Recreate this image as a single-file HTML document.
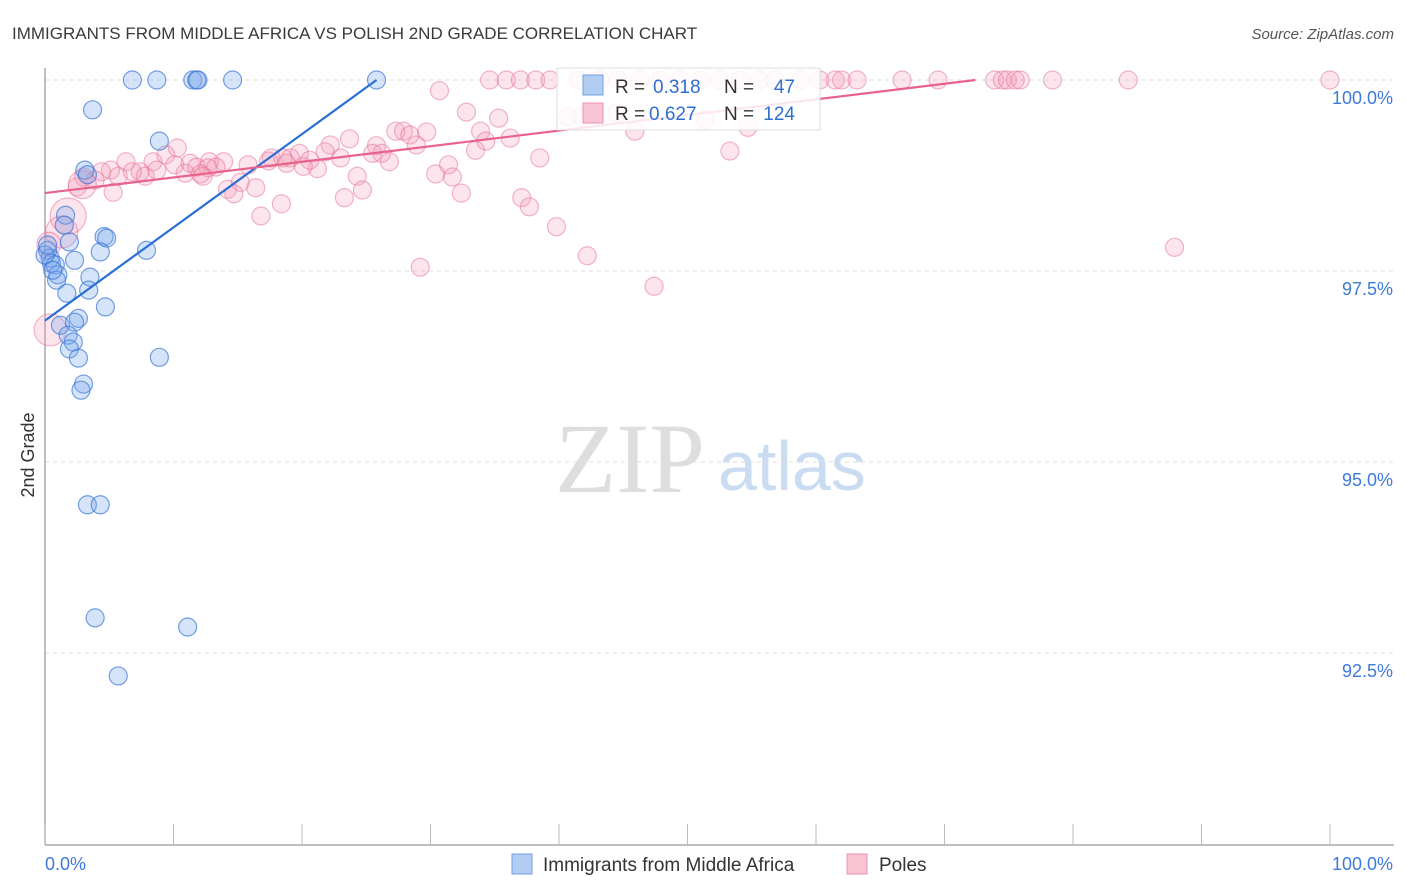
<!DOCTYPE html>
<html><head><meta charset="utf-8"><style>
body{margin:0;background:#fff;font-family:"Liberation Sans",sans-serif;}
#wrap{position:relative;width:1406px;height:892px;overflow:hidden;}
</style></head><body>
<div id="wrap">
<svg id="svg" width="1406" height="892">
<text x="12" y="39" font-size="17" fill="#3a3a3a">IMMIGRANTS FROM MIDDLE AFRICA VS POLISH 2ND GRADE CORRELATION CHART</text>
<text x="1394" y="39" font-size="15" fill="#555" font-style="italic" text-anchor="end">Source: ZipAtlas.com</text>
<text x="34" y="455" font-size="18" fill="#333" text-anchor="middle" transform="rotate(-90 34 455)">2nd Grade</text>
<text x="555" y="492" font-size="100" fill="#dedede" font-family="Liberation Serif,serif">ZIP</text>
<text x="718" y="490" font-size="70" fill="#cadcf2">atlas</text>
<g id="grid"></g><g id="axes"></g><g id="marks"></g><g id="lines"></g>
<g>
<rect x="557" y="68" width="263" height="62" fill="#fff" fill-opacity="0.85" stroke="#ddd"/>
<rect x="583" y="75" width="20" height="20" fill="#b3cdf2" stroke="#6f9fe0"/>
<rect x="583" y="103" width="20" height="20" fill="#f9c5d5" stroke="#ea94b0"/>
<text x="615" y="93" font-size="19" fill="#333">R = </text><text x="653" y="93" font-size="19" fill="#2e6fd0">0.318</text>
<text x="724" y="93" font-size="19" fill="#333">N = </text><text x="795" y="93" font-size="19" fill="#2e6fd0" text-anchor="end">47</text>
<text x="615" y="120" font-size="19" fill="#333">R = </text><text x="649" y="120" font-size="19" fill="#2e6fd0">0.627</text>
<text x="724" y="120" font-size="19" fill="#333">N = </text><text x="795" y="120" font-size="19" fill="#2e6fd0" text-anchor="end">124</text>
</g>
<g>
<rect x="512" y="854" width="20" height="20" fill="#b3cdf2" stroke="#6f9fe0"/>
<text x="543" y="871" font-size="19" fill="#333">Immigrants from Middle Africa</text>
<rect x="847" y="854" width="20" height="20" fill="#f9c5d5" stroke="#ea94b0"/>
<text x="879" y="871" font-size="19" fill="#333">Poles</text>
</g>
</svg>
</div>
<script>
const blueX=[6.8,8.7,11.5,11.8,11.9,14.6,25.8,3.7,8.9,3.1,3.3,1.6,1.5,1.9,4.6,4.8,7.9,4.3,2.3,0.2,0.4,0.5,0.8,1.0,0.9,3.5,3.4,1.7,4.7,2.6,1.2,2.3,1.8,2.2,1.9,2.6,8.9,3.0,2.8,3.3,4.3,3.9,11.1,5.7,0.0,0.2,0.6];
const blueY=[100,100,100,100,100,100,100,99.61,99.20,98.82,98.76,98.23,98.10,97.88,97.95,97.93,97.77,97.75,97.64,97.77,97.67,97.60,97.58,97.45,97.38,97.42,97.25,97.21,97.03,96.88,96.79,96.83,96.66,96.57,96.48,96.36,96.37,96.02,95.94,94.44,94.44,92.96,92.84,92.20,97.71,97.84,97.51];
const pinkX=[34.6,35.9,37.0,38.2,39.3,41.5,43.2,44.6,46.3,47.9,49.4,51.0,52.5,54.1,55.6,56.8,58.8,60.3,61.5,62.0,63.2,66.7,69.5,73.9,74.5,74.9,75.5,75.9,78.4,84.3,100,
30.7,32.8,35.3,33.9,34.3,36.2,33.5,40.7,41.8,44.5,51.4,54.7,45.9,53.3,38.5,31.4,30.4,31.7,32.4,37.1,37.7,39.8,42.2,47.4,29.2,87.9,
27.3,27.9,28.4,29.7,23.7,22.2,21.8,25.8,25.5,26.2,28.9,26.8,23.0,19.8,19.1,18.5,18.8,20.6,21.2,20.1,24.3,24.7,23.3,17.4,17.6,15.8,15.2,16.4,14.2,14.7,16.8,18.4,
10.3,9.4,8.4,6.3,5.1,4.4,7.4,7.8,8.7,5.7,3.9,3.0,2.5,5.3,11.3,11.8,12.8,13.9,12.7,10.9,12.1,13.3,12.3,10.1,6.8,2.9,1.8,1.3,0.3,0.4];
const pinkY=[100,100,100,100,100,100,100,100,100,100,100,100,100,100,100,100,100,100,100,100,100,100,100,100,100,100,100,100,100,100,100,
99.86,99.58,99.50,99.33,99.20,99.24,99.08,99.52,99.52,99.57,99.48,99.38,99.33,99.07,98.98,98.89,98.77,98.73,98.52,98.46,98.34,98.08,97.70,97.30,97.55,97.81,
99.33,99.33,99.28,99.32,99.23,99.15,99.06,99.14,99.04,99.04,99.15,98.93,98.98,99.04,98.98,98.98,98.91,98.95,98.84,98.87,98.74,98.56,98.46,98.94,98.98,98.89,98.66,98.59,98.57,98.51,98.22,98.38,
99.11,99.02,98.93,98.93,98.82,98.80,98.80,98.74,98.82,98.74,98.69,98.73,98.60,98.53,98.91,98.86,98.93,98.93,98.85,98.78,98.77,98.86,98.74,98.89,98.80,98.63,98.22,98.01,97.85,96.73];
const pinkSizes={114:14,115:18,116:16,117:12,118:16};
const blueTrend=[[0,96.85],[25.8,100]];
const pinkTrend=[[0,98.52],[72.4,100]];
const yTicks=[100,97.5,95,92.5];
const yTickLabels=["100.0%","97.5%","95.0%","92.5%"];
const xTicks=[0,10,20,30,40,50,60,70,80,90,100];
const NS="http://www.w3.org/2000/svg";
const sx=v=>45+v*12.85;
const sy=v=>80+(100-v)*76.4;
function mk(t,a,p){const e=document.createElementNS(NS,t);for(const k in a)e.setAttribute(k,a[k]);p.appendChild(e);return e;}
const grid=document.getElementById('grid'),axes=document.getElementById('axes'),marks=document.getElementById('marks'),lines=document.getElementById('lines');
yTicks.forEach((t,i)=>{
 const l=mk('line',{x1:45,x2:1394,y1:sy(t),y2:sy(t),stroke:'#ddd','stroke-dasharray':'4,4'},grid);
 
 
 const tx=mk('text',{x:1393,y:sy(t)+24,'font-size':18,fill:'#3d7ad9','text-anchor':'end'},axes);
 tx.textContent=yTickLabels[i];
 
 
});
const ya=mk('line',{x1:45,x2:45,y1:68,y2:845,stroke:'#aaa','stroke-width':1.5},axes);


const xa=mk('line',{x1:45,x2:1394,y1:845,y2:845,stroke:'#aaa','stroke-width':1.5},axes);


xTicks.forEach(t=>{
 const l=mk('line',{x1:sx(t),x2:sx(t),y1:824,y2:845,stroke:'#bbb'},axes);
 
 
});
const x0=mk('text',{x:45,y:870,'font-size':18,fill:'#3d7ad9'},axes);x0.textContent='0.0%';


const x1=mk('text',{x:1393,y:870,'font-size':18,fill:'#3d7ad9','text-anchor':'end'},axes);x1.textContent='100.0%';


pinkX.forEach((v,i)=>{
 const c=mk('circle',{cx:sx(v),cy:sy(pinkY[i]),r:pinkSizes[i]||9,fill:'rgba(245,150,180,0.25)',stroke:'rgba(232,120,160,0.55)','stroke-width':1.2},marks);
 
 
});
blueX.forEach((v,i)=>{
 const c=mk('circle',{cx:sx(v),cy:sy(blueY[i]),r:9,fill:'rgba(120,165,235,0.3)',stroke:'rgba(60,120,215,0.7)','stroke-width':1.2},marks);
 
 
});
const bl=mk('line',{x1:sx(blueTrend[0][0]),y1:sy(blueTrend[0][1]),x2:sx(blueTrend[1][0]),y2:sy(blueTrend[1][1]),stroke:'#2a6fd6','stroke-width':2.2},lines);


const pl=mk('line',{x1:sx(pinkTrend[0][0]),y1:sy(pinkTrend[0][1]),x2:sx(pinkTrend[1][0]),y2:sy(pinkTrend[1][1]),stroke:'#e8628a','stroke-width':2.2},lines);


</script>
</body></html>
